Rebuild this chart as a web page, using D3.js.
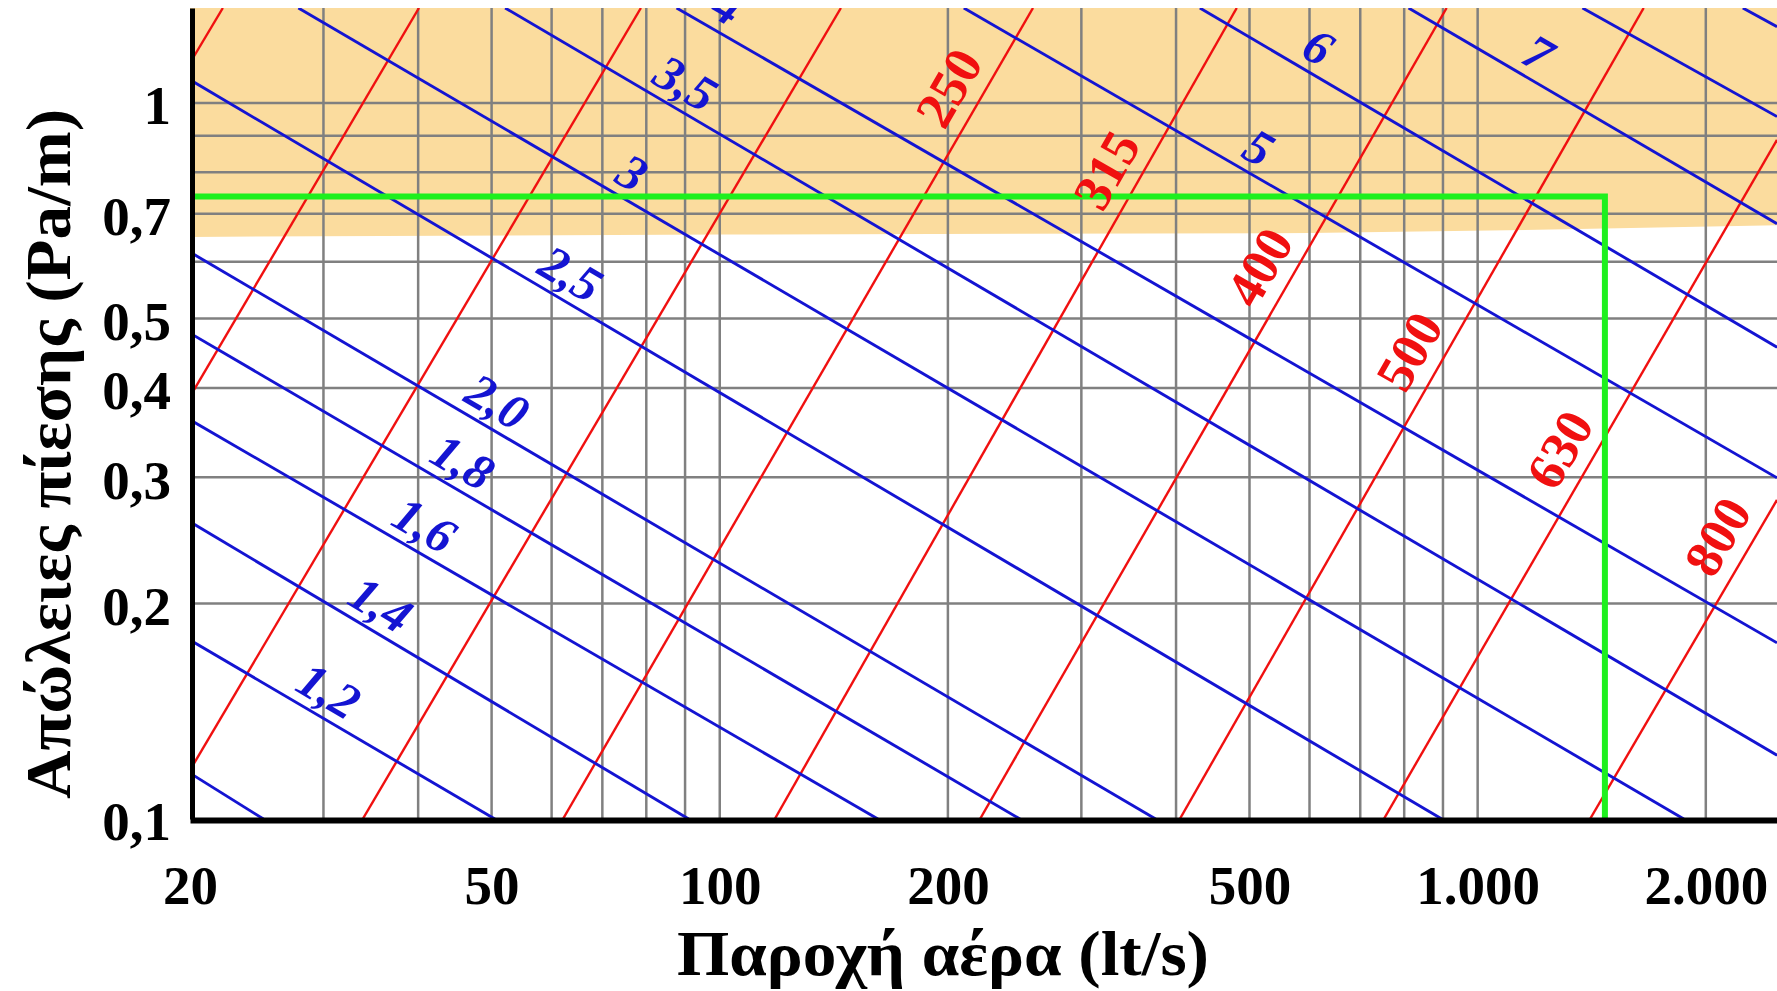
<!DOCTYPE html>
<html>
<head>
<meta charset="utf-8">
<script src="https://cdn.jsdelivr.net/npm/d3@7"></script>
<style>
body { margin: 0; background: #fff; }
svg { display: block; }
</style>
</head>
<body>
<script>
var W = 1777, H = 991;

var xTicks = [20, 50, 100, 200, 500, 1000, 2000];
var xTickLabels = ["20", "50", "100", "200", "500", "1.000", "2.000"];
var xGrid = [30, 40, 50, 60, 70, 80, 90, 100, 200, 300, 400, 500, 600, 700, 800, 900, 1000, 2000];
var yTicks = [0.1, 0.2, 0.3, 0.4, 0.5, 0.7, 1];
var yTickLabels = ["0,1", "0,2", "0,3", "0,4", "0,5", "0,7", "1"];
var yGrid = [0.2, 0.3, 0.4, 0.5, 0.6, 0.7, 0.8, 0.9, 1];

// duct diameter lines (mm), each read as two points [flow lt/s, Pa/m]
var diameters = [100, 125, 160, 200, 250, 315, 400, 500, 630, 800];
var diameterPts = [
    [[20, 1.137], [22.1, 1.357]],
    [[20, 0.389], [40.1, 1.357]],
    [[20, 0.117], [78.7, 1.357]],
    [[33.8, 0.1], [144.5, 1.357]],
    [[62.1, 0.1], [259, 1.357]],
    [[118.2, 0.1], [481, 1.357]],
    [[220.5, 0.1], [910, 1.357]],
    [[404.6, 0.1], [1656, 1.357]],
    [[752, 0.1], [2483, 0.888]],
    [[1407, 0.1], [2483, 0.279]]
];
var diameterLabelR = [null, null, null, null, 1.05, 0.806, 0.59, 0.45, 0.328, 0.248];

// air velocity lines (m/s)
var velocities = ["1,0", "1,2", "1,4", "1,6", "1,8", "2,0", "2,5", "3", "3,5", "4", "5", "6", "7", "8", "9"];
var velocityPts = [
    [[20, 0.1159], [25, 0.1]],
    [[20, 0.1778], [50.5, 0.1]],
    [[20, 0.26], [91, 0.1]],
    [[20, 0.361], [161.7, 0.1]],
    [[20, 0.477], [249, 0.1]],
    [[20, 0.619], [376, 0.1]],
    [[20, 1.077], [897, 0.1]],
    [[27.8, 1.357], [1871, 0.1]],
    [[52.1, 1.357], [2483, 0.1228]],
    [[87.7, 1.357], [2483, 0.1762]],
    [[209.9, 1.357], [2483, 0.2995]],
    [[430, 1.357], [2483, 0.456]],
    [[810.6, 1.357], [2483, 0.678]],
    [[1375, 1.357], [2483, 0.957]],
    [[2238, 1.357], [2483, 1.278]]
];
var velocityLabelQ = [null, 30.5, 35.7, 40.8, 45.8, 50.9, 63.6, 76.7, 90.2, 102.5, 514.5, 616.6, 1203, null, null];

// comfort zone lower edge and the worked example
var bandLower = [[20, 0.65], [100, 0.655], [600, 0.658], [1200, 0.665], [2483, 0.675]];
var example = [[20, 0.74], [1472, 0.74], [1472, 0.1]];

var font = "'Liberation Serif', 'Times New Roman', serif";

var x = d3.scaleLog().domain([20, 2483]).range([190, 1777]);
var y = d3.scaleLog().domain([0.1, 1.357]).range([819, 8]);

var svg = d3.select("body")
    .append("svg")
    .attr("width", W)
    .attr("height", H);

svg.append("defs").append("clipPath").attr("id", "plot")
    .append("rect")
    .attr("x", x.range()[0]).attr("y", y.range()[1])
    .attr("width", x.range()[1] - x.range()[0])
    .attr("height", y.range()[0] - y.range()[1]);

var plot = svg.append("g").attr("clip-path", "url(#plot)");

var line = d3.line()
    .x(function (d) { return x(d[0]); })
    .y(function (d) { return y(d[1]); });

var band = [[20, y.domain()[1]], [2483, y.domain()[1]]].concat(bandLower.slice().reverse());
plot.append("path")
    .datum(band)
    .attr("d", line)
    .attr("fill", "#fbdc9e");

plot.selectAll(".vgrid")
    .data(xGrid)
    .enter().append("line")
    .attr("x1", function (d) { return x(d); })
    .attr("x2", function (d) { return x(d); })
    .attr("y1", y.range()[0])
    .attr("y2", y.range()[1])
    .attr("stroke", "#808080")
    .attr("stroke-width", 2.5);

plot.selectAll(".hgrid")
    .data(yGrid)
    .enter().append("line")
    .attr("y1", function (d) { return y(d); })
    .attr("y2", function (d) { return y(d); })
    .attr("x1", x.range()[0])
    .attr("x2", x.range()[1])
    .attr("stroke", "#808080")
    .attr("stroke-width", 2.5);

plot.selectAll(".dia")
    .data(diameterPts)
    .enter().append("path")
    .attr("d", line)
    .attr("fill", "none")
    .attr("stroke", "#f01010")
    .attr("stroke-width", 2.4);

plot.selectAll(".vel")
    .data(velocityPts)
    .enter().append("path")
    .attr("d", line)
    .attr("fill", "none")
    .attr("stroke", "#1414d2")
    .attr("stroke-width", 2.9);

plot.append("path")
    .datum(example)
    .attr("d", line)
    .attr("fill", "none")
    .attr("stroke", "#1ef01e")
    .attr("stroke-width", 6);

// blue labels sit above their line
velocityPts.forEach(function (p, i) {
    var q = velocityLabelQ[i];
    if (q == null) return;
    var x1 = x(p[0][0]), y1 = y(p[0][1]), x2 = x(p[1][0]), y2 = y(p[1][1]);
    var lx = x(q);
    var ly = y1 + (y2 - y1) * (lx - x1) / (x2 - x1);
    var ang = Math.atan2(y2 - y1, x2 - x1) * 180 / Math.PI;
    plot.append("text")
        .attr("transform", "translate(" + lx + "," + (ly - 31) + ") rotate(" + ang + ")")
        .attr("text-anchor", "middle")
        .attr("dominant-baseline", "central")
        .attr("font-family", font)
        .attr("font-size", 50)
        .attr("font-weight", "bold")
        .attr("font-style", "italic")
        .attr("fill", "#1414d2")
        .text(velocities[i]);
});

// red labels sit left of their line
diameterPts.forEach(function (p, i) {
    var r = diameterLabelR[i];
    if (r == null) return;
    var x1 = x(p[0][0]), y1 = y(p[0][1]), x2 = x(p[1][0]), y2 = y(p[1][1]);
    var ly = y(r);
    var lx = x1 + (x2 - x1) * (ly - y1) / (y2 - y1);
    var ang = Math.atan2(y2 - y1, x2 - x1) * 180 / Math.PI;
    plot.append("text")
        .attr("transform", "translate(" + (lx - 38) + "," + ly + ") rotate(" + ang + ")")
        .attr("text-anchor", "middle")
        .attr("dominant-baseline", "central")
        .attr("font-family", font)
        .attr("font-size", 53)
        .attr("font-weight", "bold")
        .attr("fill", "#f01010")
        .text(diameters[i]);
});

var xAxis = d3.axisBottom(x)
    .tickValues(xTicks)
    .tickFormat(function (d) { return xTickLabels[xTicks.indexOf(d)]; })
    .tickSize(0)
    .tickSizeOuter(0)
    .tickPadding(45);

var gx = svg.append("g")
    .attr("transform", "translate(0,820)")
    .call(xAxis);
gx.select(".domain").attr("stroke", "#000").attr("stroke-width", 6);
gx.selectAll("text")
    .attr("font-family", font)
    .attr("font-size", 55)
    .attr("font-weight", "bold")
    .attr("fill", "#000");

var yAxis = d3.axisLeft(y)
    .tickValues(yTicks)
    .tickFormat(function (d) { return yTickLabels[yTicks.indexOf(d)]; })
    .tickSize(0)
    .tickSizeOuter(0)
    .tickPadding(21);

var gy = svg.append("g")
    .attr("transform", "translate(192,0)")
    .call(yAxis);
gy.select(".domain").attr("stroke", "#000").attr("stroke-width", 5);
gy.selectAll("text")
    .attr("dy", "0.38em")
    .attr("font-family", font)
    .attr("font-size", 55)
    .attr("font-weight", "bold")
    .attr("fill", "#000");

svg.append("text")
    .attr("x", 943)
    .attr("y", 975)
    .attr("text-anchor", "middle")
    .attr("font-family", font)
    .attr("font-size", 64)
    .attr("font-weight", "bold")
    .attr("textLength", 532)
    .attr("lengthAdjust", "spacingAndGlyphs")
    .text("Παροχή αέρα (lt/s)");

svg.append("text")
    .attr("transform", "translate(70,454) rotate(-90)")
    .attr("text-anchor", "middle")
    .attr("font-family", font)
    .attr("font-size", 64)
    .attr("font-weight", "bold")
    .attr("textLength", 690)
    .attr("lengthAdjust", "spacingAndGlyphs")
    .text("Απώλειες πίεσης (Pa/m)");
</script>
</body>
</html>
